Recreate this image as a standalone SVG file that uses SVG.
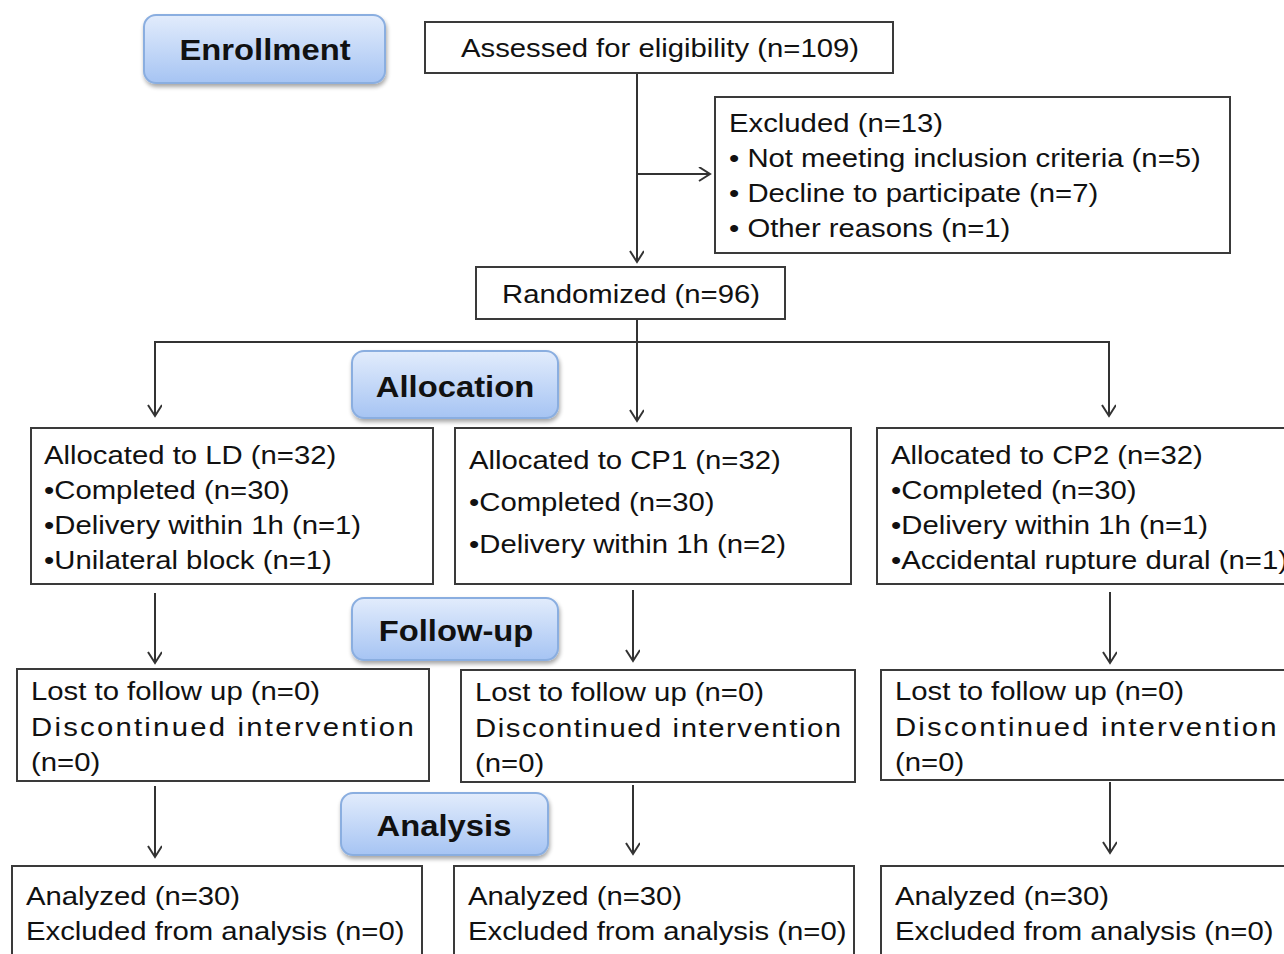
<svg xmlns="http://www.w3.org/2000/svg" width="1284" height="954" viewBox="0 0 1284 954">
<defs>
<linearGradient id="pillg" x1="0" y1="0" x2="0" y2="1">
<stop offset="0" stop-color="#e2ecfc"/>
<stop offset="1" stop-color="#a6c4f3"/>
</linearGradient>
<filter id="sh" x="-10%" y="-10%" width="120%" height="140%">
<feGaussianBlur in="SourceAlpha" stdDeviation="2"/>
<feOffset dx="1" dy="3" result="b"/>
<feComponentTransfer><feFuncA type="linear" slope="0.35"/></feComponentTransfer>
<feMerge><feMergeNode/><feMergeNode in="SourceGraphic"/></feMerge>
</filter>
<marker id="arr" markerWidth="20" markerHeight="20" refX="12" refY="7" orient="auto" markerUnits="userSpaceOnUse">
<path d="M1,0 L12,7 L1,14" fill="none" stroke="#333" stroke-width="2"/>
</marker>
</defs>
<style>
.box{fill:#fff;stroke:#3a3a3a;stroke-width:2}
.pill{fill:url(#pillg);stroke:#8aaee0;stroke-width:2;filter:url(#sh)}
.t{font-family:"Liberation Sans",Arial,sans-serif;font-size:26.5px;fill:#111}
.b{font-family:"Liberation Sans",Arial,sans-serif;font-size:29px;font-weight:bold;fill:#111;text-anchor:middle}
.c{fill:none;stroke:#333;stroke-width:2}
</style>
<rect width="1284" height="954" fill="#fff"/>

<g id="connectors">
<line class="c" x1="637" y1="73" x2="637" y2="262" marker-end="url(#arr)"/>
<line class="c" x1="637" y1="174" x2="710" y2="174" marker-end="url(#arr)"/>
<line class="c" x1="637" y1="319" x2="637" y2="421" marker-end="url(#arr)"/>
<polyline class="c" points="155,416 155,342 1109,342 1109,416"/>
<line class="c" x1="155" y1="400" x2="155" y2="416" marker-end="url(#arr)"/>
<line class="c" x1="1109" y1="400" x2="1109" y2="416" marker-end="url(#arr)"/>
<line class="c" x1="155" y1="593" x2="155" y2="663" marker-end="url(#arr)"/>
<line class="c" x1="633" y1="590" x2="633" y2="661" marker-end="url(#arr)"/>
<line class="c" x1="1110" y1="592" x2="1110" y2="663" marker-end="url(#arr)"/>
<line class="c" x1="155" y1="786" x2="155" y2="857" marker-end="url(#arr)"/>
<line class="c" x1="633" y1="785" x2="633" y2="854" marker-end="url(#arr)"/>
<line class="c" x1="1110" y1="782" x2="1110" y2="853" marker-end="url(#arr)"/>
</g>

<g id="enrollment">
<rect class="pill" x="144" y="15" width="241" height="68" rx="12"/>
<text class="b" transform="translate(265,60) scale(1.13,1)">Enrollment</text>
</g>
<g id="allocation">
<rect class="pill" x="352" y="351" width="206" height="67" rx="12"/>
<text class="b" transform="translate(455,397) scale(1.13,1)">Allocation</text>
</g>
<g id="followup">
<rect class="pill" x="352" y="598" width="206" height="62" rx="12"/>
<text class="b" transform="translate(456,641) scale(1.13,1)">Follow-up</text>
</g>
<g id="analysis">
<rect class="pill" x="341" y="793" width="207" height="62" rx="12"/>
<text class="b" transform="translate(444,836) scale(1.13,1)">Analysis</text>
</g>

<g id="assessed">
<rect class="box" x="425" y="22" width="468" height="51"/>
<text class="t" transform="translate(461,57) scale(1.106,1)">Assessed for eligibility (n=109)</text>
</g>
<g id="excluded">
<rect class="box" x="715" y="97" width="515" height="156"/>
<text class="t" transform="translate(729,132) scale(1.106,1)">Excluded (n=13)</text>
<text class="t" transform="translate(729,167) scale(1.106,1)">• Not meeting inclusion criteria (n=5)</text>
<text class="t" transform="translate(729,202) scale(1.106,1)">• Decline to participate (n=7)</text>
<text class="t" transform="translate(729,237) scale(1.106,1)">• Other reasons (n=1)</text>
</g>
<g id="randomized">
<rect class="box" x="476" y="267" width="309" height="52"/>
<text class="t" transform="translate(502,303) scale(1.106,1)">Randomized (n=96)</text>
</g>

<g id="alloc-ld">
<rect class="box" x="31" y="428" width="402" height="156"/>
<text class="t" transform="translate(44,464) scale(1.106,1)">Allocated to LD (n=32)</text>
<text class="t" transform="translate(44,499) scale(1.106,1)">•Completed (n=30)</text>
<text class="t" transform="translate(44,534) scale(1.106,1)">•Delivery within 1h (n=1)</text>
<text class="t" transform="translate(44,569) scale(1.106,1)">•Unilateral block (n=1)</text>
</g>
<g id="alloc-cp1">
<rect class="box" x="455" y="428" width="396" height="156"/>
<text class="t" transform="translate(469,469) scale(1.106,1)">Allocated to CP1 (n=32)</text>
<text class="t" transform="translate(469,511) scale(1.106,1)">•Completed (n=30)</text>
<text class="t" transform="translate(469,553) scale(1.106,1)">•Delivery within 1h (n=2)</text>
</g>
<g id="alloc-cp2">
<rect class="box" x="877" y="428" width="420" height="156"/>
<text class="t" transform="translate(891,464) scale(1.106,1)">Allocated to CP2 (n=32)</text>
<text class="t" transform="translate(891,499) scale(1.106,1)">•Completed (n=30)</text>
<text class="t" transform="translate(891,534) scale(1.106,1)">•Delivery within 1h (n=1)</text>
<text class="t" transform="translate(891,569) scale(1.106,1)">•Accidental rupture dural (n=1)</text>
</g>

<g id="follow-ld">
<rect class="box" x="17" y="669" width="412" height="112"/>
<text class="t" transform="translate(31,700) scale(1.106,1)">Lost to follow up (n=0)</text>
<text class="t" transform="translate(31,736) scale(1.106,1)" textLength="346" lengthAdjust="spacing">Discontinued intervention</text>
<text class="t" transform="translate(31,771) scale(1.106,1)">(n=0)</text>
</g>
<g id="follow-cp1">
<rect class="box" x="461" y="670" width="394" height="112"/>
<text class="t" transform="translate(475,701) scale(1.106,1)">Lost to follow up (n=0)</text>
<text class="t" transform="translate(475,737) scale(1.106,1)" textLength="331" lengthAdjust="spacing">Discontinued intervention</text>
<text class="t" transform="translate(475,772) scale(1.106,1)">(n=0)</text>
</g>
<g id="follow-cp2">
<rect class="box" x="881" y="670" width="416" height="110"/>
<text class="t" transform="translate(895,700) scale(1.106,1)">Lost to follow up (n=0)</text>
<text class="t" transform="translate(895,736) scale(1.106,1)" textLength="345" lengthAdjust="spacing">Discontinued intervention</text>
<text class="t" transform="translate(895,771) scale(1.106,1)">(n=0)</text>
</g>

<g id="analyzed-ld">
<rect class="box" x="12" y="866" width="410" height="100"/>
<text class="t" transform="translate(26,905) scale(1.106,1)">Analyzed (n=30)</text>
<text class="t" transform="translate(26,940) scale(1.106,1)">Excluded from analysis (n=0)</text>
</g>
<g id="analyzed-cp1">
<rect class="box" x="454" y="866" width="400" height="100"/>
<text class="t" transform="translate(468,905) scale(1.106,1)">Analyzed (n=30)</text>
<text class="t" transform="translate(468,940) scale(1.106,1)">Excluded from analysis (n=0)</text>
</g>
<g id="analyzed-cp2">
<rect class="box" x="881" y="866" width="416" height="100"/>
<text class="t" transform="translate(895,905) scale(1.106,1)">Analyzed (n=30)</text>
<text class="t" transform="translate(895,940) scale(1.106,1)">Excluded from analysis (n=0)</text>
</g>
</svg>
